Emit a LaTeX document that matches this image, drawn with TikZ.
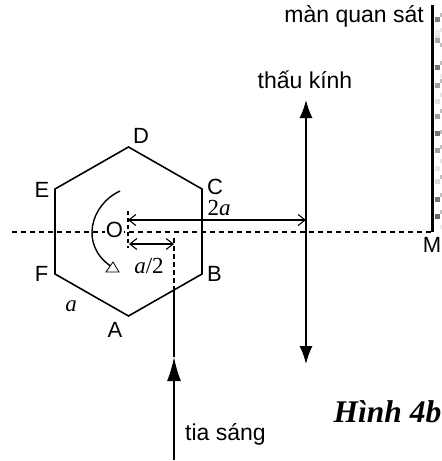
\documentclass[tikz,border=0pt]{standalone}
\usepackage{fontspec}
\setmainfont{Liberation Sans}
\newfontfamily\serifvn{Liberation Serif}
\usetikzlibrary{arrows.meta}
\tikzset{
  lbl/.style={font=\fontsize{22}{24}\selectfont, inner sep=0pt},
  txtlbl/.style={font=\fontsize{23}{26}\selectfont, inner sep=0pt},
  mathlbl/.style={font=\serifvn\fontsize{23}{26}\selectfont, inner sep=0pt},
  hexline/.style={line width=1.6pt},
  axisline/.style={line width=1.2pt, dash pattern=on 5pt off 4pt},
  openarrow/.style={line width=1.1pt, {Straight Barb[length=7pt,width=11pt]}-{Straight Barb[length=7pt,width=11pt]}},
  bigarrow/.style={line width=1.6pt, -{Latex[length=24pt,width=14pt]}}
}
\begin{document}
\begin{tikzpicture}[x=1pt,y=-1pt]
  \useasboundingbox (0,0) rectangle (442,461);
  % hexagon
  \coordinate (D) at (128.5,147);
  \coordinate (C) at (202,189);
  \coordinate (B) at (202,274);
  \coordinate (A) at (128.5,316);
  \coordinate (F) at (55,274);
  \coordinate (E) at (55,189);
  \draw[hexline] (A) -- (B) -- (C) -- (D) -- (E) -- (F) -- cycle;
  \node[lbl] (labD) at (141,135.5) {D};
  \node[lbl] (labC) at (215,186.5) {C};
  \node[lbl] (labB) at (214.5,274) {B};
  \node[lbl] (labA) at (115,330) {A};
  \node[lbl] (labF) at (41.5,274) {F};
  \node[lbl] (labE) at (42,190) {E};
  % axis
  \coordinate (axisL) at (12,232);
  \coordinate (axisR) at (432.5,232);
  \draw[axisline] (axisL) -- (axisR);
  \node[lbl,fill=white,inner sep=1pt] (labO) at (114.5,230) {O};
  \node[lbl] (labM) at (432,245) {M};
  % screen
  \coordinate (scrT) at (432.5,5);
  \draw[line width=3.2pt] (scrT) -- (axisR);
  \foreach \y/\c in {19.5/50,32.5/8,37/12,40.5/35,67.5/55,85/38,101/12,116/38,133.5/55,150.5/38,168.5/10,181.5/15,199/55,216/60}
    \fill[black!\c] (435,\y-2.5) rectangle (440,\y+2.5);
  \foreach \y/\c in {15/25,29.5/10,45/25,63/25,76/8,81/25,94.5/10,111/25,132/25,146.5/25,161/10,176.5/25,195/25,211.5/25,226.5/8}
    \fill[black!\c] (440,\y-2) rectangle (442,\y+2);
  \node[txtlbl,anchor=base east] (labScreen) at (424,22.7) {màn quan sát};
  % lens
  \coordinate (lensT) at (306,100);
  \coordinate (lensB) at (306,364);
  \coordinate (lensO) at (306,220);
  \draw[line width=1.6pt, {Latex[length=18pt,width=13pt]}-{Latex[length=18pt,width=13pt]}] (lensT) -- (lensB);
  \node[txtlbl,anchor=base] (labLens) at (305,88) {thấu kính};
  % dimensions
  \coordinate (OT) at (128,211);
  \coordinate (OB) at (128,248);
  \draw[line width=1.1pt, dash pattern=on 4pt off 3pt] (OT) -- (OB);
  \coordinate (O2) at (128,220);
  \draw[openarrow] (O2) -- (lensO);
  \coordinate (O3) at (129,244);
  \coordinate (rayD) at (174,244);
  \draw[openarrow] (O3) -- (rayD);
  \node[mathlbl] (lab2a) at (219,207.5) {2\textit{a}};
  \node[mathlbl] (labHalf) at (149,266) {\textit{a}/2};
  \node[mathlbl] (labSide) at (71,306) {\textit{a}};
  % ray
  \coordinate (rayS) at (174,460);
  \coordinate (rayH) at (174,357);
  \coordinate (rayE) at (174,291);
  \coordinate (rayT) at (174,237);
  \draw[bigarrow] (rayS) -- (rayH);
  \draw[line width=1.6pt] (rayH) -- (rayE);
  \draw[line width=1.2pt, dash pattern=on 5pt off 3pt] (rayE) -- (rayT);
  \node[txtlbl,anchor=base west] (labRay) at (185,440) {tia sáng};
  % rotation
  \coordinate (rotS) at (120,191);
  \coordinate (rotE) at (110.5,266);
  \draw[line width=1.4pt] (rotS) .. controls (90,205) and (80,245) .. (rotE);
  \draw[line width=0.8pt, fill=white] (113,262) -- (119,272) -- (106,272) -- cycle;
  \node[font=\serifvn\bfseries\itshape\fontsize{31.5}{34}\selectfont, inner sep=0pt, anchor=base east] (labFig) at (441.5,422) {Hình 4b};
\end{tikzpicture}
\end{document}
